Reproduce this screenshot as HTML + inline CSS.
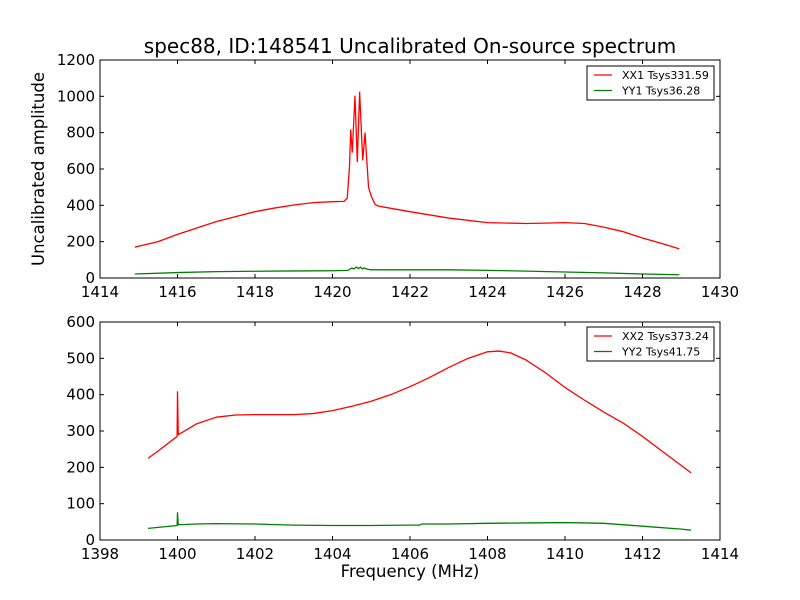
<!DOCTYPE html>
<html><head><meta charset="utf-8"><style>
body{margin:0;background:#fff;}
svg{display:block;font-family:"DejaVu Sans","Liberation Sans",sans-serif;}
</style></head><body>
<svg id="chart" width="800" height="600" viewBox="0 0 800 600">
<rect width="800" height="600" fill="#fff"/>
<text x="410" y="53" font-size="20" text-anchor="middle">spec88, ID:148541 Uncalibrated On-source spectrum</text>
<text transform="translate(44,169) rotate(-90)" font-size="16.5" text-anchor="middle">Uncalibrated amplitude</text>
<text x="410" y="577" font-size="16.5" text-anchor="middle">Frequency (MHz)</text>
</svg>
<script>
const topFreqXX = [1414.9,1415.5,1416,1416.5,1417,1417.5,1418,1418.5,1419,1419.5,1420,1420.3,1420.38,1420.44,1420.47,1420.51,1420.58,1420.64,1420.7,1420.78,1420.84,1420.93,1421.0,1421.1,1421.2,1422,1423,1424,1425,1425.5,1426,1426.5,1427,1427.5,1428,1428.5,1428.95];
const topValXX = [170,200,240,275,310,338,365,385,402,415,420,422,440,620,815,693,1001,640,1023,650,798,500,450,405,395,365,330,305,300,302,305,300,280,255,220,190,160];
const topFreqYY = [1414.9,1416,1417,1418,1419,1420,1420.4,1420.5,1420.55,1420.62,1420.67,1420.72,1420.77,1420.82,1420.9,1421,1422,1423,1424,1425,1426,1427,1428,1428.95];
const topValYY = [22,30,35,37,39,40,42,55,50,60,52,60,50,55,48,45,45,45,42,38,33,28,22,18];
const botFreqXX = [1399.24,1399.5,1399.99,1400,1400.02,1400.5,1401,1401.5,1402,1403,1403.5,1404,1404.5,1405,1405.5,1406,1406.5,1407,1407.5,1408,1408.3,1408.6,1409,1409.5,1410,1410.5,1411,1411.5,1412,1412.5,1413,1413.25];
const botValXX = [225,245,285,408,290,320,338,344,345,345,348,356,368,382,400,422,447,475,500,518,520,515,495,460,420,385,352,322,285,245,205,185];
const botFreqYY = [1399.24,1399.99,1400,1400.02,1400.5,1401,1402,1403,1404,1405,1406,1406.25,1406.3,1407,1408,1409,1410,1411,1412,1413,1413.25];
const botValYY = [32,40,75,42,44,45,44,41,40,40,41,41,44,44,46,47,48,46,38,30,27];
const topXTicks = [1414,1416,1418,1420,1422,1424,1426,1428,1430];
const topYTicks = [0,200,400,600,800,1000,1200];
const botXTicks = [1398,1400,1402,1404,1406,1408,1410,1412,1414];
const botYTicks = [0,100,200,300,400,500,600];
const topLegend = ["XX1 Tsys331.59","YY1 Tsys36.28"];
const botLegend = ["XX2 Tsys373.24","YY2 Tsys41.75"];

const svg = document.getElementById('chart');
const NS = 'http://www.w3.org/2000/svg';
function mk(tag, attrs, parent){const e=document.createElementNS(NS,tag);for(const k in attrs)e.setAttribute(k,attrs[k]);(parent||svg).appendChild(e);return e;}

function panel(name, top, bottom, xmin, xmax, ymax, xTicks, yTicks, series, legend, legY){
  const L=100,R=720;
  const sx=v=>L+(v-xmin)/(xmax-xmin)*(R-L);
  const sy=v=>bottom-v/ymax*(bottom-top);
  const g=mk('g',{});
  
  
  series.forEach(s=>{
    const d=s.f.map((f,i)=>(i?'L':'M')+sx(f).toFixed(2)+','+sy(s.v[i]).toFixed(2)).join(' ');
    const p=mk('path',{d:d,fill:'none',stroke:s.c,'stroke-width':1.3,'stroke-linejoin':'round'},g);
    
    
  });
  const fr=mk('rect',{x:L,y:top,width:R-L,height:bottom-top,fill:'none',stroke:'#000','stroke-width':1},g);
  
  
  xTicks.forEach(t=>{
    const x=sx(t);
    mk('line',{x1:x,x2:x,y1:bottom,y2:bottom-4,stroke:'#000'},g);
    mk('line',{x1:x,x2:x,y1:top,y2:top+4,stroke:'#000'},g);
    const tx=mk('text',{x:x,y:bottom+19,'font-size':15,'text-anchor':'middle'},g);
    tx.textContent=t;
    
    
  });
  yTicks.forEach(t=>{
    const y=sy(t);
    mk('line',{x1:L,x2:L+4,y1:y,y2:y,stroke:'#000'},g);
    mk('line',{x1:R,x2:R-4,y1:y,y2:y,stroke:'#000'},g);
    const tx=mk('text',{x:L-5,y:y+5,'font-size':15,'text-anchor':'end'},g);
    tx.textContent=t;
    
    
  });
  const lg=mk('g',{},g);
  
  
  mk('rect',{x:587,y:legY,width:127,height:34,fill:'#fff',stroke:'#000'},lg);
  legend.forEach((txt,i)=>{
    const yy=legY+9+i*15.5;
    mk('line',{x1:594,x2:612,y1:yy,y2:yy,stroke:series[i].c,'stroke-width':1.3},lg);
    const t=mk('text',{x:622,y:yy+4,'font-size':11},lg);
    t.textContent=txt;
    
    
  });
}
panel('top-panel',60,278,1414,1430,1200,topXTicks,topYTicks,
  [{f:topFreqXX,v:topValXX,c:'#ff0000',n:'xx1-line'},{f:topFreqYY,v:topValYY,c:'#008000',n:'yy1-line'}],topLegend,66);
panel('bottom-panel',322,540,1398,1414,600,botXTicks,botYTicks,
  [{f:botFreqXX,v:botValXX,c:'#ff0000',n:'xx2-line'},{f:botFreqYY,v:botValYY,c:'#008000',n:'yy2-line'}],botLegend,327);
</script>
</body></html>
